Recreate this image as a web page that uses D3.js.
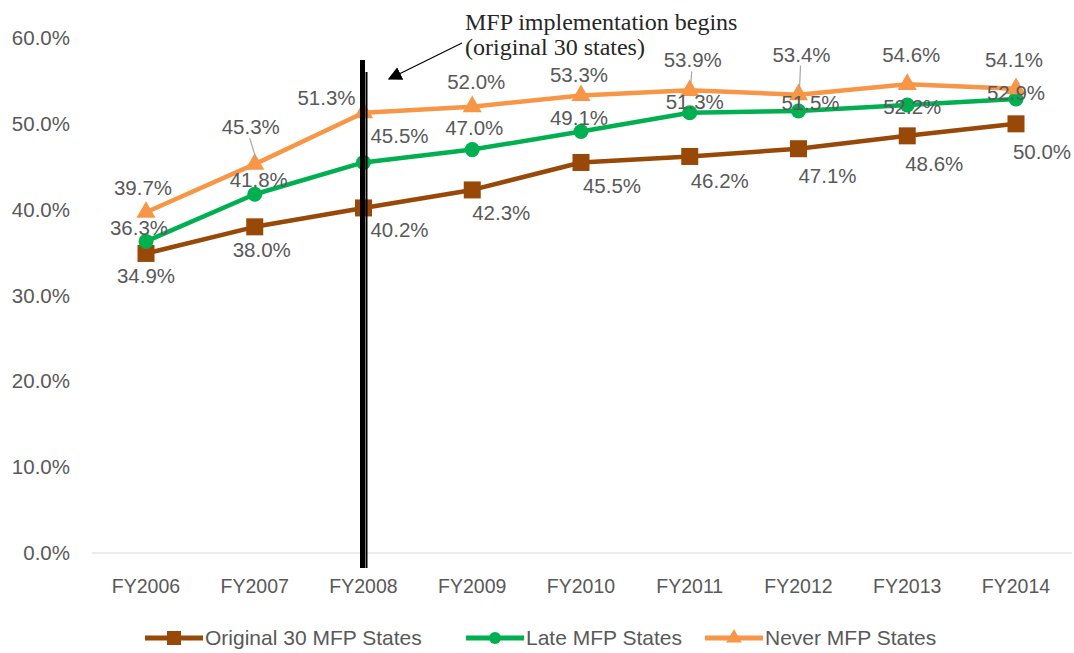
<!DOCTYPE html>
<html>
<head>
<meta charset="utf-8">
<script src="https://cdn.jsdelivr.net/npm/d3@7"></script>
<style>
  body { margin: 0; background: #fff; }
  svg { display: block; font-family: "Liberation Sans", Arial, sans-serif; }
</style>
</head>
<body>
<div class="grafico"></div>
<script>
// data
var years = ["FY2006", "FY2007", "FY2008", "FY2009", "FY2010", "FY2011", "FY2012", "FY2013", "FY2014"];
var original30 = [34.9, 38.0, 40.2, 42.3, 45.5, 46.2, 47.1, 48.6, 50.0];
var lateMfp = [36.3, 41.8, 45.5, 47.0, 49.1, 51.3, 51.5, 52.2, 52.9];
var neverMfp = [39.7, 45.3, 51.3, 52.0, 53.3, 53.9, 53.4, 54.6, 54.1];
var yTicks = [0, 10, 20, 30, 40, 50, 60];
var seriesNames = ["Original 30 MFP States", "Late MFP States", "Never MFP States"];

// label nudges (pixels), like the hand-moved excel labels
var offOriginal = [[0,23],[7,23],[36,22],[29,23],[31,24],[30,25],[29,27],[27,28],[26,28]];
var offLate = [[-7,-13],[4,-14],[36,-26],[2,-22],[-2,-14],[5,-11],[12,-8],[5,2],[0,-6]];
var offNever = [[-3,-24],[-4,-37],[-37,-15],[4,-25],[-2,-21],[3,-30],[3,-40],[4,-29],[-2,-29]];
var leaderNever = [false, true, false, false, false, true, true, false, false];

var width = 1074, height = 653;
var txtColor = "#595959";

var svg = d3.select(".grafico")
  .append("svg")
  .attr("width", width)
  .attr("height", height);

var x = d3.scalePoint()
  .domain(years)
  .range([146, 1016]);

var y = d3.scaleLinear()
  .domain([0, 60])
  .range([553, 38]);

// baseline only (no other gridlines)
svg.append("line")
  .attr("x1", 92).attr("x2", 1072)
  .attr("y1", y(0)).attr("y2", y(0))
  .style("stroke", "#d9d9d9")
  .style("stroke-width", 1);

// y tick labels
svg.selectAll(".ytick")
  .data(yTicks)
  .enter()
  .append("text")
  .attr("class", "ytick")
  .attr("x", 70)
  .attr("y", function(d) { return y(d) + 7; })
  .attr("text-anchor", "end")
  .style("font-size", "20.5px")
  .style("fill", txtColor)
  .text(function(d) { return d.toFixed(1) + "%"; });

// x labels
svg.selectAll(".xtick")
  .data(years)
  .enter()
  .append("text")
  .attr("class", "xtick")
  .attr("x", function(d) { return x(d); })
  .attr("y", 593)
  .attr("text-anchor", "middle")
  .style("font-size", "19.5px")
  .style("fill", txtColor)
  .text(function(d) { return d; });

var series = [
  {name: seriesNames[0], values: original30, color: "#984807", shape: "square", off: offOriginal},
  {name: seriesNames[1], values: lateMfp, color: "#00b050", shape: "circle", off: offLate},
  {name: seriesNames[2], values: neverMfp, color: "#f79646", shape: "triangle", off: offNever}
];

var line = d3.line()
  .x(function(d, i) { return x(years[i]); })
  .y(function(d) { return y(d); });

function drawMarker(g, shape, color, size) {
  if (shape == "square") {
    g.append("rect")
      .attr("x", -size/2).attr("y", -size/2)
      .attr("width", size).attr("height", size)
      .style("fill", color);
  } else if (shape == "circle") {
    g.append("circle")
      .attr("r", size/2 - 1)
      .style("fill", color);
  } else {
    g.append("path")
      .attr("d", d3.symbol().type(d3.symbolTriangle).size(size*size*0.55)())
      .style("fill", color);
  }
}

series.forEach(function(s) {
  svg.append("path")
    .datum(s.values)
    .attr("d", line)
    .style("fill", "none")
    .style("stroke", s.color)
    .style("stroke-width", 4.5)
    .style("stroke-linejoin", "round");

  s.values.forEach(function(v, i) {
    var g = svg.append("g")
      .attr("transform", "translate(" + x(years[i]) + "," + y(v) + ")");
    drawMarker(g, s.shape, s.color, 17);
  });
});

// leader lines for the moved labels
neverMfp.forEach(function(v, i) {
  if (!leaderNever[i]) return;
  var px = x(years[i]), py = y(v);
  svg.append("line")
    .attr("x1", px + offNever[i][0] - 1)
    .attr("y1", py + offNever[i][1] + 11)
    .attr("x2", px + 1)
    .attr("y2", py - 6)
    .style("stroke", "#a6a6a6")
    .style("stroke-width", 1.2);
});

// data labels
series.forEach(function(s) {
  svg.selectAll(null)
    .data(s.values)
    .enter()
    .append("text")
    .attr("x", function(d, i) { return x(years[i]) + s.off[i][0]; })
    .attr("y", function(d, i) { return y(d) + s.off[i][1] + 7; })
    .attr("text-anchor", "middle")
    .style("font-size", "20.5px")
    .style("fill", txtColor)
    .text(function(d) { return d.toFixed(1) + "%"; });
});

// MFP start marker line
var xl = x("FY2008");
svg.append("line")
  .attr("x1", xl - 1).attr("x2", xl - 1)
  .attr("y1", 60).attr("y2", 568)
  .style("stroke", "#000")
  .style("stroke-width", 5);
svg.append("line")
  .attr("x1", xl + 3).attr("x2", xl + 3)
  .attr("y1", 72).attr("y2", 568)
  .style("stroke", "#000")
  .style("stroke-width", 2);

// annotation arrow
svg.append("defs").append("marker")
  .attr("id", "arrowhead")
  .attr("viewBox", "0 0 10 10")
  .attr("refX", 9).attr("refY", 5)
  .attr("markerWidth", 14).attr("markerHeight", 14)
  .attr("markerUnits", "userSpaceOnUse")
  .attr("orient", "auto")
  .append("path")
  .attr("d", "M0,0 L10,5 L0,10 z")
  .style("fill", "#000");

svg.append("line")
  .attr("x1", 462).attr("y1", 43)
  .attr("x2", 389).attr("y2", 79)
  .style("stroke", "#000")
  .style("stroke-width", 1.2)
  .attr("marker-end", "url(#arrowhead)");

var note = svg.append("text")
  .attr("x", 465)
  .style("font-family", "'Liberation Serif', 'Times New Roman', serif")
  .style("font-size", "24px")
  .style("fill", "#262626");
note.append("tspan").attr("x", 465).attr("y", 30).text("MFP implementation begins");
note.append("tspan").attr("x", 465).attr("y", 55).text("(original 30 states)");

// legend
var legendPos = [145, 466, 705];
series.forEach(function(s, i) {
  var lx = legendPos[i], ly = 638;
  svg.append("line")
    .attr("x1", lx).attr("x2", lx + 58)
    .attr("y1", ly).attr("y2", ly)
    .style("stroke", s.color)
    .style("stroke-width", 5);
  var g = svg.append("g").attr("transform", "translate(" + (lx + 29) + "," + ly + ")");
  drawMarker(g, s.shape, s.color, 14);
  svg.append("text")
    .attr("x", lx + 60)
    .attr("y", ly + 7)
    .style("font-size", "21px")
    .style("fill", txtColor)
    .text(s.name);
});
</script>
</body>
</html>
